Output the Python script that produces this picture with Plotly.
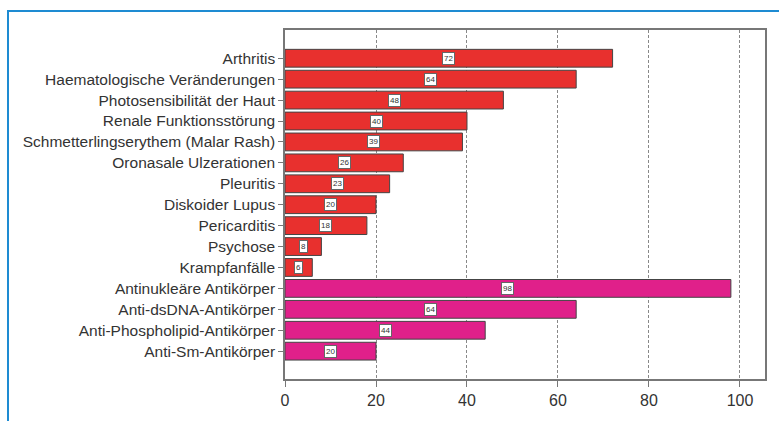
import plotly.graph_objects as go

# Häufigkeit (%) der Kriterien
klinisch = [
    "Arthritis",
    "Haematologische Veränderungen",
    "Photosensibilität der Haut",
    "Renale Funktionsstörung",
    "Schmetterlingserythem (Malar Rash)",
    "Oronasale Ulzerationen",
    "Pleuritis",
    "Diskoider Lupus",
    "Pericarditis",
    "Psychose",
    "Krampfanfälle",
]
klinisch_werte = [72, 64, 48, 40, 39, 26, 23, 20, 18, 8, 6]

labor = [
    "Antinukleäre Antikörper",
    "Anti-dsDNA-Antikörper",
    "Anti-Phospholipid-Antikörper",
    "Anti-Sm-Antikörper",
]
labor_werte = [98, 64, 44, 20]

x_ticks = [0, 20, 40, 60, 80, 100]

RED = "#E8302E"
MAGENTA = "#E0208A"

kategorien = klinisch + labor
werte = klinisch_werte + labor_werte
farben = [RED] * len(klinisch) + [MAGENTA] * len(labor)
pos = list(range(len(kategorien)))

fig = go.Figure()
fig.add_trace(go.Bar(
    y=pos,
    x=werte,
    orientation="h",
    width=0.85,
    marker=dict(color=farben, line=dict(color="#444444", width=1)),
    hoverinfo="x+text",
    hovertext=kategorien,
))

# Wertebeschriftung in der Balkenmitte
for p, v in zip(pos, werte):
    fig.add_annotation(
        x=v / 2, y=p, xref="x", yref="y",
        text=str(v), showarrow=False,
        font=dict(family="Liberation Sans, Arial", size=8, color="#333333"),
        bgcolor="white", bordercolor="#666666", borderwidth=1, borderpad=1,
    )

# Blauer Rahmen um die Abbildung
fig.add_shape(
    type="rect", xref="paper", yref="paper",
    xsizemode="pixel", ysizemode="pixel", xanchor=0, yanchor=1,
    x0=-277, x1=700, y0=-500, y1=19,
    line=dict(color="#1E8BD2", width=2), fillcolor="rgba(0,0,0,0)",
    layer="below",
)

fig.update_layout(
    width=779, height=421,
    margin=dict(l=285, r=12, t=30, b=34),
    paper_bgcolor="white",
    plot_bgcolor="white",
    showlegend=False,
    font=dict(family="Liberation Sans, Arial", size=15, color="#333333"),
    xaxis=dict(
        range=[0, 105.5],
        tickvals=x_ticks,
        ticks="outside", ticklen=6, tickcolor="#777777",
        showline=True, linecolor="#777777", linewidth=1.5, mirror=True,
        showgrid=True, gridcolor="#888888", griddash="3px,2px", gridwidth=1,
        zeroline=False,
        tickfont=dict(size=16, color="#333333"),
    ),
    yaxis=dict(
        range=[15.33, -1.35],
        tickvals=pos, ticktext=kategorien,
        ticks="outside", ticklen=5, tickcolor="#777777",
        showline=True, linecolor="#777777", linewidth=1.5, mirror=True,
        showgrid=False, zeroline=False,
        tickfont=dict(size=15.5, color="#333333"),
    ),
)

fig.write_html("out.html")
